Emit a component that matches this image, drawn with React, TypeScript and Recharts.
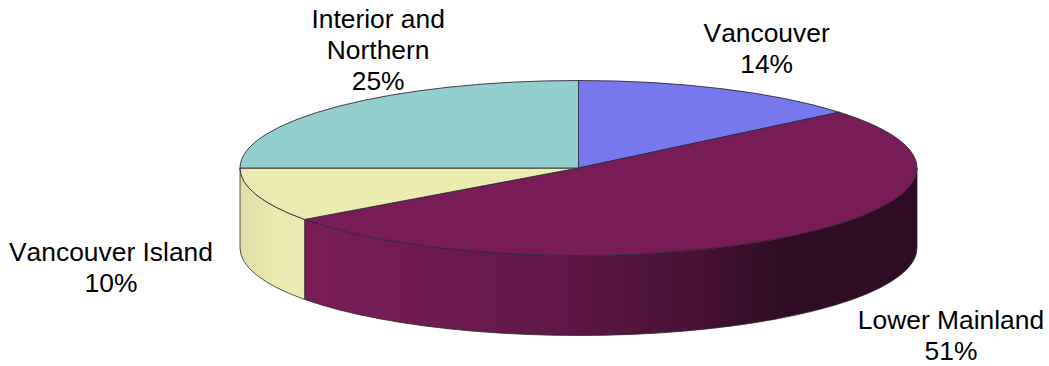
import React from 'react';
import { PieChart, Pie } from 'recharts';

// Regional shares, clockwise from twelve o'clock
const regions = ['Vancouver', 'Lower Mainland', 'Vancouver Island', 'Interior and Northern'];
const shares = [14, 51, 10, 25];
const labelLines = [['Vancouver'], ['Lower Mainland'], ['Vancouver Island'], ['Interior and', 'Northern']];

const topColors = ['#7878EE', '#781C58', '#ECECB0', '#94CFCF'];
const sideFills = ['#5A5AB0', 'url(#mainlandSide)', 'url(#islandSide)', '#6F9B9B'];

const WIDTH = 1049;
const HEIGHT = 366;
const CX = 578.5;
const CY = 168;
const RX = 338.5;
const RY = 87.5;
const DEPTH = 80;
const TILT = RY / RX;
const FONT_SIZE = 26.4;
const LINE_HEIGHT = 31;

// Label anchor relative to the rim point at each slice's middle angle
const labelOffsets = [
  { dx: 44, dy: -46.5 },
  { dx: 165, dy: 91.5 },
  { dx: -145.6, dy: 66 },
  { dx: 39, dy: -78.1 },
];

const chartData = regions.map((name, i) => ({ name, value: shares[i], fill: topColors[i] }));

const rad = (deg: number) => (deg * Math.PI) / 180;

const rimPoint = (cx: number, cy: number, r: number, deg: number) => ({
  x: cx + r * Math.cos(rad(deg)),
  y: cy - r * TILT * Math.sin(rad(deg)),
});

// Draws one slice as an elliptical wedge with its visible outer wall below it
function TiltedSlice(props: any) {
  const { cx, cy, outerRadius: r, startAngle, endAngle, index, fill } = props;
  const ry = r * TILT;
  const a = rimPoint(cx, cy, r, startAngle);
  const b = rimPoint(cx, cy, r, endAngle);
  const large = Math.abs(startAngle - endAngle) > 180 ? 1 : 0;
  const top = `M${cx},${cy} L${a.x},${a.y} A${r},${ry} 0 ${large} 1 ${b.x},${b.y} Z`;

  // Only the front half of the rim (angles from 0 down to -180) shows a wall
  const wallStart = Math.min(startAngle, 0);
  const wallEnd = Math.max(endAngle, -180);
  let wall = null;
  if (wallStart > wallEnd) {
    const s = rimPoint(cx, cy, r, wallStart);
    const e = rimPoint(cx, cy, r, wallEnd);
    const d = `M${s.x},${s.y} A${r},${ry} 0 0 1 ${e.x},${e.y} L${e.x},${e.y + DEPTH} A${r},${ry} 0 0 0 ${s.x},${s.y + DEPTH} Z`;
    wall = <path d={d} fill={sideFills[index]} stroke="#2b2b2b" strokeWidth={0.8} strokeLinejoin="round" />;
  }
  return (
    <g>
      {wall}
      <path d={top} fill={fill} stroke="#2a2a3a" strokeWidth={0.9} strokeLinejoin="round" />
    </g>
  );
}

function SliceLabel(props: any) {
  const { cx, cy, outerRadius: r, midAngle, index, value } = props;
  const rim = rimPoint(cx, cy, r, midAngle);
  const x = rim.x + labelOffsets[index].dx;
  const y = rim.y + labelOffsets[index].dy;
  const lines = [...labelLines[index], `${value}%`];
  return (
    <text
      x={x}
      y={y}
      textAnchor="middle"
      fill="#000"
      fontSize={FONT_SIZE}
      fontFamily="'Liberation Sans', Arial, sans-serif"
      style={{ fontKerning: 'none' }}
    >
      {lines.map((line, i) => (
        <tspan key={i} x={x} dy={i === 0 ? 0 : LINE_HEIGHT}>
          {line}
        </tspan>
      ))}
    </text>
  );
}

export default function App() {
  return (
    <div style={{ position: 'absolute', left: 0, top: 0, width: WIDTH, height: HEIGHT }}>
      <PieChart width={WIDTH} height={HEIGHT} margin={{ top: 0, right: 0, bottom: 0, left: 0 }}>
        <defs>
          <linearGradient id="mainlandSide" gradientUnits="userSpaceOnUse" x1={306} y1={0} x2={917} y2={0}>
            <stop offset="0" stopColor="#781C58" />
            <stop offset="0.2" stopColor="#701B52" />
            <stop offset="0.45" stopColor="#5C1645" />
            <stop offset="0.65" stopColor="#461133" />
            <stop offset="0.77" stopColor="#310D25" />
            <stop offset="1" stopColor="#2F0C24" />
          </linearGradient>
          <linearGradient id="islandSide" gradientUnits="userSpaceOnUse" x1={240} y1={0} x2={306} y2={0}>
            <stop offset="0" stopColor="#DEDEA6" />
            <stop offset="0.45" stopColor="#EAEAAF" />
            <stop offset="1" stopColor="#ECECB0" />
          </linearGradient>
        </defs>
        <Pie
          data={chartData}
          dataKey="value"
          nameKey="name"
          cx={CX}
          cy={CY}
          innerRadius={0}
          outerRadius={RX}
          startAngle={90}
          endAngle={-270}
          isAnimationActive={false}
          shape={TiltedSlice}
          label={SliceLabel}
          labelLine={false}
          rootTabIndex={-1}
        />
      </PieChart>
    </div>
  );
}
